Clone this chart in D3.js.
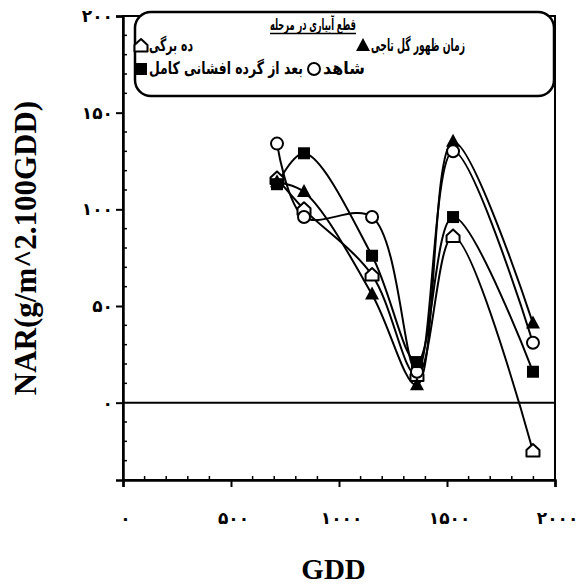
<!DOCTYPE html>
<html><head><meta charset="utf-8">
<script src="https://cdn.jsdelivr.net/npm/d3@7"></script>
<style>body{margin:0;background:#fff}svg{display:block}</style>
</head><body>
<svg id="c" width="580" height="586"></svg>
<script>
// ---- data ----
const gdd = [713, 838, 1153, 1361, 1528, 1898];
const tenLeaf = [116, 100, 66, 14, 86, -25];        // ده برگی (open house)
const tassel = [114, 109, 56, 9, 135, 41];          // زمان ظهور گل تاجی (filled triangle)
const control = [134, 96, 96, 16, 130, 31];         // شاهد (open circle)
const afterPoll = [113, 129, 76, 21, 96, 16];       // بعد از گرده افشانی کامل (filled square)
const xTicks = [0, 500, 1000, 1500, 2000];
const xTickLabels = ["۰", "۵۰۰", "۱۰۰۰", "۱۵۰۰", "۲۰۰۰"];
const yTicks = [0, 50, 100, 150, 200];
const yTickLabels = ["۰", "۵۰", "۱۰۰", "۱۵۰", "۲۰۰"];
const legendTitle = "قطع آبیاری در مرحله";
const seriesNames = ["ده برگی", "زمان ظهور گل تاجی", "شاهد", "بعد از گرده افشانی کامل"];
const xTitle = "GDD";
const yTitle = "NAR(g/m^2.100GDD)";

const series = [
  {name: seriesNames[0], values: tenLeaf, marker: "house"},
  {name: seriesNames[1], values: tassel, marker: "triangle"},
  {name: seriesNames[2], values: control, marker: "circle"},
  {name: seriesNames[3], values: afterPoll, marker: "square"}
];

const svg = d3.select("#c");
const L = 123, R = 555, T = 16, B = 480;
const x = d3.scaleLinear().domain([0, 2000]).range([L, R]);
const y = d3.scaleLinear().domain([-40, 200]).range([B, T]);
const fa = "'DejaVu Sans', sans-serif";
const serif = "'Liberation Serif', 'Times New Roman', serif";

// frame
svg.append("rect").attr("x", L).attr("y", T).attr("width", R - L).attr("height", B - T)
  .attr("fill", "none").attr("stroke", "#000").attr("stroke-width", 2);

// zero line
svg.append("line").attr("x1", L).attr("x2", R).attr("y1", y(0)).attr("y2", y(0))
  .attr("stroke", "#000").attr("stroke-width", 2);

// x axis
const xAxis = d3.axisBottom(x).tickValues(xTicks).tickSize(7).tickFormat((d, i) => xTickLabels[i]);
const gx = svg.append("g").attr("transform", `translate(0,${B})`).call(xAxis);
gx.select(".domain").attr("stroke-width", 2.5);
gx.selectAll(".tick line").attr("stroke-width", 2);
gx.selectAll("text").attr("font-family", fa).attr("font-weight", "bold").attr("font-size", 17)
  .attr("letter-spacing", 4).attr("dx", 2).attr("dy", 0).attr("y", 44).attr("fill", "#000");
const xMinor = d3.range(100, 2000, 100).filter(v => v % 500 !== 0);
svg.append("g").selectAll("line").data(xMinor).join("line")
  .attr("x1", d => x(d)).attr("x2", d => x(d)).attr("y1", B).attr("y2", B - 4)
  .attr("stroke", "#000").attr("stroke-width", 1.5);

// y axis
const yAxis = d3.axisLeft(y).tickValues(yTicks).tickSize(7).tickFormat((d, i) => yTickLabels[i]);
const gy = svg.append("g").attr("transform", `translate(${L},0)`).call(yAxis);
gy.select(".domain").attr("stroke-width", 2.5);
gy.selectAll(".tick line").attr("stroke-width", 2);
gy.selectAll("text").attr("font-family", fa).attr("font-weight", "bold").attr("font-size", 17)
  .attr("letter-spacing", 4).attr("x", -10).attr("fill", "#000");
const yMinor = d3.range(-40, 200, 10).filter(v => v % 50 !== 0);
svg.append("g").selectAll("line").data(yMinor).join("line")
  .attr("x1", L).attr("x2", L + 4).attr("y1", d => y(d)).attr("y2", d => y(d))
  .attr("stroke", "#000").attr("stroke-width", 1.5);

// titles
svg.append("text").attr("x", x(975)).attr("y", 579).attr("text-anchor", "middle")
  .attr("font-family", serif).attr("font-weight", "bold").attr("font-size", 29)
  .text(xTitle);
svg.append("text").attr("transform", "translate(36,248) rotate(-90)").attr("text-anchor", "middle")
  .attr("font-family", serif).attr("font-weight", "bold").attr("font-size", 31)
  .text(yTitle);

// markers
function drawMarker(g, type, cx, cy) {
  if (type === "circle") {
    g.append("circle").attr("cx", cx).attr("cy", cy).attr("r", 6)
      .attr("fill", "#fff").attr("stroke", "#000").attr("stroke-width", 2);
  } else if (type === "square") {
    g.append("rect").attr("x", cx - 6).attr("y", cy - 6).attr("width", 12).attr("height", 12).attr("fill", "#000");
  } else if (type === "triangle") {
    g.append("path").attr("d", `M${cx},${cy - 8}L${cx + 7},${cy + 5}L${cx - 7},${cy + 5}Z`).attr("fill", "#000");
  } else if (type === "house") {
    g.append("path").attr("d", `M${cx},${cy - 7}L${cx + 6.5},${cy - 1}L${cx + 6.5},${cy + 5.5}L${cx - 6.5},${cy + 5.5}L${cx - 6.5},${cy - 1}Z`)
      .attr("fill", "#fff").attr("stroke", "#000").attr("stroke-width", 2).attr("stroke-linejoin", "round");
  }
}

const line = d3.line().x((d, i) => x(gdd[i])).y(d => y(d)).curve(d3.curveCatmullRom.alpha(0.5));
const plot = svg.append("g");
series.forEach(s => {
  plot.append("path").attr("d", line(s.values)).attr("fill", "none").attr("stroke", "#000").attr("stroke-width", 2);
});
series.forEach(s => {
  const g = plot.append("g");
  s.values.forEach((v, i) => drawMarker(g, s.marker, x(gdd[i]), y(v)));
});

// legend: text squeezed horizontally to the reference widths via a scale transform
function fitText(g, txt, tx, ty, w, size, anchorMiddle) {
  const t = g.append("text").attr("font-family", fa).attr("font-weight", "bold")
    .attr("font-size", size).text(txt);
  const w0 = t.node().getComputedTextLength();
  const sx = w / w0;
  const left = anchorMiddle ? tx - w / 2 : tx;
  t.attr("transform", `translate(${left},${ty}) scale(${sx},1)`);
  return t;
}
const lg = svg.append("g");
lg.append("rect").attr("x", 135).attr("y", 12).attr("width", 419).attr("height", 84).attr("rx", 16)
  .attr("fill", "#fff").attr("stroke", "#000").attr("stroke-width", 2.5);
fitText(lg, legendTitle, 313, 30, 86, 16, true);
lg.append("line").attr("x1", 270).attr("x2", 356).attr("y1", 33.5).attr("y2", 33.5)
  .attr("stroke", "#000").attr("stroke-width", 1.5);
const legendPos = [
  {mx: 141, tx: 149, w: 44, y: 46},
  {mx: 363, tx: 371, w: 94, y: 46},
  {mx: 314, tx: 323, w: 42, y: 69},
  {mx: 141, tx: 149, w: 154, y: 69}
];
series.forEach((s, i) => {
  const p = legendPos[i];
  drawMarker(lg, s.marker, p.mx, p.y);
  fitText(lg, s.name, p.tx, p.y + 5, p.w, 17, false);
});
</script>
</body></html>
